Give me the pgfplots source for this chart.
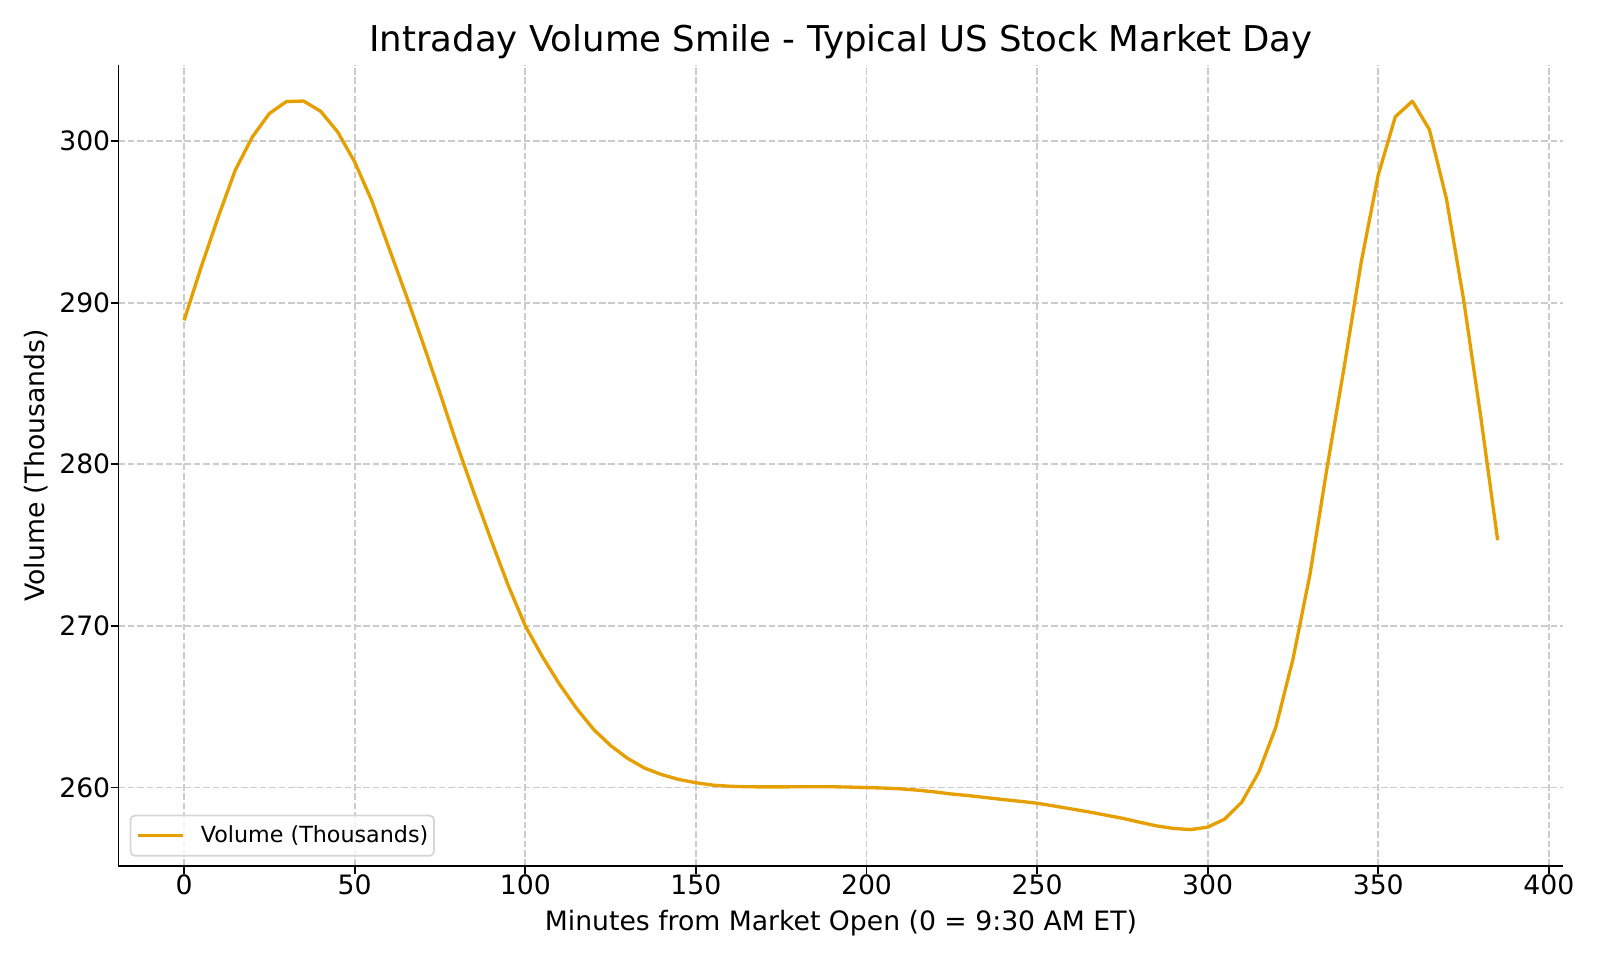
\documentclass[border=0pt]{standalone}
\usepackage{fontspec}
\setmainfont{DejaVu Sans}
\usepackage{pgfplots}
\pgfplotsset{compat=1.18}

\definecolor{lineorange}{HTML}{E69F00}
\definecolor{gridgray}{HTML}{CCCCCC}
\definecolor{legendedge}{HTML}{D6D6D6}

% Average traded volume per 5-minute step after the opening bell
\pgfplotstableread{
minute volume
0 288.9
5 292.2
10 295.3
15 298.2
20 300.25
25 301.7
30 302.44
35 302.47
40 301.84
45 300.56
50 298.7
55 296.3
60 293.4
65 290.5
70 287.5
75 284.4
80 281.2
85 278.2
90 275.3
95 272.5
100 270.0
105 268.1
110 266.4
115 264.9
120 263.6
125 262.6
130 261.8
135 261.2
140 260.8
145 260.5
150 260.3
155 260.15
160 260.08
165 260.05
170 260.04
175 260.04
180 260.05
185 260.05
190 260.05
195 260.03
200 260.0
205 259.97
210 259.92
215 259.84
220 259.73
225 259.6
230 259.5
235 259.38
240 259.26
245 259.15
250 259.03
255 258.86
260 258.68
265 258.5
270 258.3
275 258.1
280 257.86
285 257.63
290 257.47
295 257.4
300 257.55
305 258.05
310 259.1
315 260.96
320 263.75
325 267.95
330 273.2
335 279.8
340 286.0
345 292.5
350 297.9
355 301.5
360 302.46
365 300.7
370 296.4
375 290.2
380 283.0
385 275.3
}\volumedata

\begin{document}
\begin{tikzpicture}
\begin{axis}[
  at={(0,0)}, anchor=south west,
  scale only axis,
  width=650.2pt, height=360.6pt,
  xmin=-19.25, xmax=404.25,
  ymin=255.147, ymax=304.72,
  axis x line*=bottom, axis y line*=left,
  axis line style={black, line width=0.8pt},
  xtick={0,50,...,400},
  ytick={260,270,...,300},
  minor tick num=0,
  tick align=outside,
  major tick length=3.5pt,
  every tick/.append style={black, line width=0.8pt},
  grid=major,
  grid style={gridgray, line width=0.8pt, dash pattern=on 2.96pt off 1.28pt},
  /pgf/number format/assume math mode=true,
  ticklabel style={font=\fontsize{12}{14}\selectfont, text=black},
  xticklabel style={anchor=north, inner sep=0pt, yshift=-0.2pt},
  yticklabel style={anchor=east, inner sep=0pt, xshift=0pt},
  title={Intraday Volume Smile - Typical US Stock Market Day},
  title style={font=\fontsize{16}{19}\selectfont, at={(axis description cs:0.5,1)}, anchor=base},
  xlabel={Minutes from Market Open (0 = 9:30 AM ET)},
  xlabel style={font=\fontsize{12}{14}\selectfont, at={(axis description cs:0.5,-0.0807)}, anchor=base},
  ylabel={Volume (Thousands)},
  ylabel style={font=\fontsize{12}{14}\selectfont, at={(axis description cs:-0.0512,0.5)}, anchor=base, rotate=0},
  legend style={
    at={(axis description cs:0,0)}, anchor=south west,
    xshift=5pt, yshift=4.2pt,
    draw=legendedge, line width=0.8pt,
    fill=white, fill opacity=0.8, draw opacity=1, text opacity=1,
    rounded corners=2pt,
    inner xsep=2.6pt, inner ysep=4.5pt,
    font=\fontsize{10}{12}\selectfont,
    nodes={inner sep=0pt, text=black},
    column sep=7.1pt,
  },
  legend cell align=left,
  legend image code/.code={\draw[#1] (0pt,0pt) -- (20.5pt,0pt);},
]
\addplot[lineorange, line width=1.5pt, line join=round] table[x=minute, y=volume] {\volumedata};
\addlegendentry{Volume (Thousands)\hspace{3.4pt}}
\end{axis}
\pgfresetboundingbox
\path[use as bounding box] (-53.3pt,-42.3pt) rectangle (666.7pt,389.7pt);
\end{tikzpicture}
\end{document}
